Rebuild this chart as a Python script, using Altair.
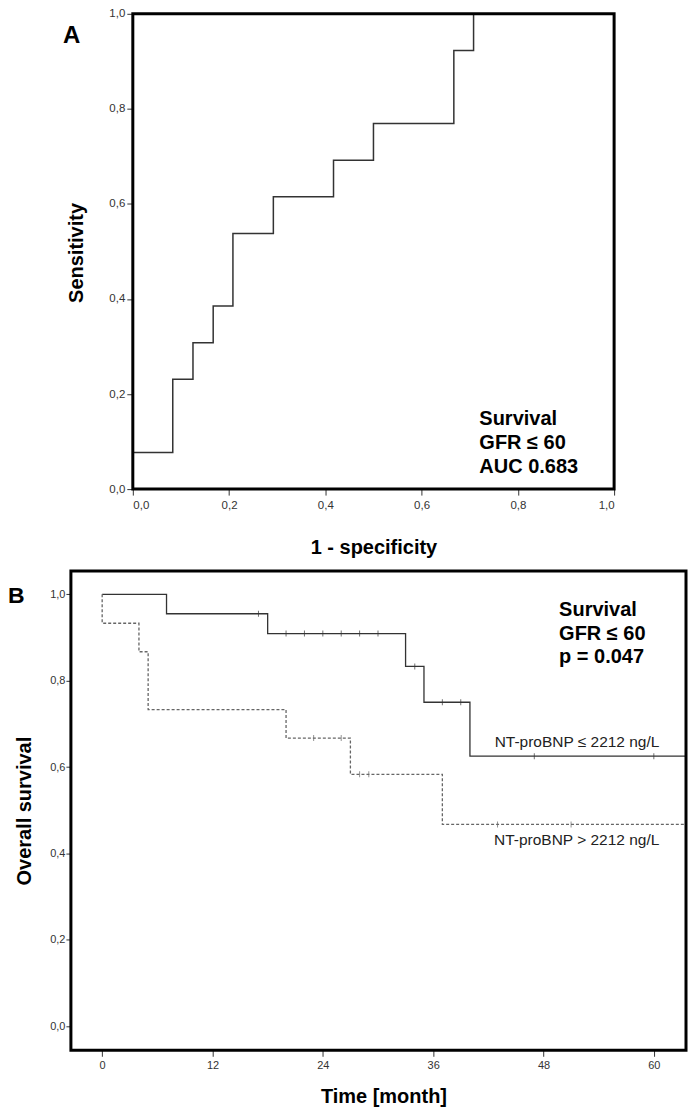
import altair as alt
import pandas as pd

FONT = "Liberation Sans"

# ---------------- Panel A: ROC curve ----------------
roc_fpr = [0.0, 0.0, 0.083, 0.125, 0.167, 0.208, 0.292, 0.417, 0.5, 0.667, 0.708, 1.0]
roc_tpr = [0.0, 0.077, 0.231, 0.308, 0.385, 0.538, 0.615, 0.692, 0.769, 0.923, 1.0, 1.0]
roc_ticks = [0.0, 0.2, 0.4, 0.6, 0.8, 1.0]
roc_domain = [0.0, 1.0]
roc_note = ["Survival", "GFR ≤ 60", "AUC 0.683"]
roc_note_x = [0.72, 0.72, 0.72]
roc_note_y = [0.135, 0.085, 0.033]

# ---------------- Panel B: Kaplan-Meier ----------------
low_time = [0, 7, 18, 33, 35, 40, 63.5]
low_surv = [1.0, 0.955, 0.909, 0.833, 0.750, 0.625, 0.625]
low_cens_time = [17, 20, 22, 24, 26, 28, 30, 34, 37, 39, 47, 60]
low_cens_surv = [0.955, 0.909, 0.909, 0.909, 0.909, 0.909, 0.909, 0.833, 0.750, 0.750, 0.625, 0.625]
high_time = [0, 0, 4, 5, 20, 27, 37, 63.5]
high_surv = [1.0, 0.933, 0.867, 0.733, 0.667, 0.583, 0.467, 0.467]
high_cens_time = [23, 26, 28, 29, 43, 51]
high_cens_surv = [0.667, 0.667, 0.583, 0.583, 0.467, 0.467]
km_ticks_x = [0, 12, 24, 36, 48, 60]
km_ticks_y = [0.0, 0.2, 0.4, 0.6, 0.8, 1.0]
km_x_domain = [-3.4, 63.5]
km_y_domain = [-0.056, 1.054]
km_note = ["Survival", "GFR ≤ 60", "p = 0.047"]
km_note_x = [49.7, 49.7, 49.7]
km_note_y = [0.95, 0.895, 0.84]
group_labels = ["NT-proBNP ≤ 2212 ng/L", "NT-proBNP > 2212 ng/L"]
group_label_x = [60.6, 60.6]
group_label_y = [0.647, 0.42]

comma = "replace(format(datum.value, '.1f'), '.', ',')"

# layout (pixels inside the single shared view)
W, H = 616, 1038
A_X0, A_X1 = 62, 544
A_Y0, A_Y1 = 476, 0
B_Y0, B_Y1 = 1038, 558

# ---------- Panel A ----------
roc_df = pd.DataFrame({"fpr": roc_fpr, "tpr": roc_tpr, "i": list(range(len(roc_fpr)))})
roc_note_df = pd.DataFrame({"fpr": roc_note_x, "tpr": roc_note_y, "t": roc_note})
roc_frame = pd.DataFrame({"fpr": [roc_domain[0]], "fpr2": [roc_domain[1]],
                          "tpr": [roc_domain[0]], "tpr2": [roc_domain[1]]})

xA = alt.X("fpr:Q", scale=alt.Scale(domain=roc_domain, range=[A_X0, A_X1], nice=False, zero=False),
           axis=alt.Axis(orient="bottom", offset=A_Y0 - H, values=roc_ticks, labelExpr=comma,
                         tickSize=6, labelPadding=4, labelFontSize=11.5,
                         title="1 - specificity", titleX=303, titleY=64,
                         titleBaseline="alphabetic", titleAlign="center"))
yA = alt.Y("tpr:Q", scale=alt.Scale(domain=roc_domain, range=[A_Y0, A_Y1], nice=False, zero=False),
           axis=alt.Axis(orient="left", offset=-A_X0, values=roc_ticks, labelExpr=comma,
                         tickSize=6, labelPadding=2, labelFontSize=11.5,
                         title="Sensitivity", titleX=-50, titleY=239,
                         titleAngle=270, titleBaseline="alphabetic", titleAlign="center"))

roc_line = alt.Chart(roc_df).mark_line(interpolate="step-after", color="#333", strokeWidth=1.5).encode(
    x=xA, y=yA, order="i:Q")
roc_text = alt.Chart(roc_note_df).mark_text(align="left", baseline="alphabetic", font=FONT,
                                             fontSize=20, fontWeight="bold", color="black").encode(
    x=xA, y=yA, text="t:N")
frameA = alt.Chart(roc_frame).mark_rect(fill="transparent", stroke="black", strokeWidth=3).encode(
    x=xA, x2="fpr2:Q", y=yA, y2="tpr2:Q")
letterA = alt.Chart(pd.DataFrame({"t": ["A"]})).mark_text(
    align="left", baseline="alphabetic", font=FONT, fontSize=24, fontWeight="bold", color="black").encode(
    text="t:N", x=alt.value(-8), y=alt.value(29))

panelA = alt.layer(roc_line, roc_text, frameA, letterA)

# ---------- Panel B ----------
low_df = pd.DataFrame({"time": low_time, "surv": low_surv, "i": list(range(len(low_time)))})
high_df = pd.DataFrame({"time": high_time, "surv": high_surv, "i": list(range(len(high_time)))})
low_c = pd.DataFrame({"time": low_cens_time, "surv": low_cens_surv})
high_c = pd.DataFrame({"time": high_cens_time, "surv": high_cens_surv})
km_note_df = pd.DataFrame({"time": km_note_x, "surv": km_note_y, "t": km_note})
grp_df = pd.DataFrame({"time": group_label_x, "surv": group_label_y, "t": group_labels})
km_frame = pd.DataFrame({"time": [km_x_domain[0]], "time2": [km_x_domain[1]],
                         "surv": [km_y_domain[0]], "surv2": [km_y_domain[1]]})

xB = alt.X("time:Q", scale=alt.Scale(domain=km_x_domain, range=[0, W], nice=False, zero=False),
           axis=alt.Axis(orient="bottom", values=km_ticks_x, format="d", tickSize=6, labelPadding=3,
                         labelFontSize=11, title="Time [month]", titleX=313, titleY=52,
                         titleBaseline="alphabetic", titleAlign="center"))
yB = alt.Y("surv:Q", scale=alt.Scale(domain=km_y_domain, range=[B_Y0, B_Y1], nice=False, zero=False),
           axis=alt.Axis(orient="left", values=km_ticks_y, labelExpr=comma, tickSize=5, labelPadding=1,
                         labelFontSize=11, title="Overall survival", titleX=-40, titleY=798,
                         titleAngle=270, titleBaseline="alphabetic", titleAlign="center"))

low_line = alt.Chart(low_df).mark_line(interpolate="step-after", color="#333", strokeWidth=1.3).encode(
    x=xB, y=yB, order="i:Q")
high_line = alt.Chart(high_df).mark_line(interpolate="step-after", color="#666", strokeWidth=1.3,
                                         strokeDash=[3, 2]).encode(
    x=xB, y=yB, order="i:Q")
low_ticks = alt.Chart(low_c).mark_tick(orient="vertical", size=6, thickness=1, color="#333").encode(x=xB, y=yB)
high_ticks = alt.Chart(high_c).mark_tick(orient="vertical", size=6, thickness=1, color="#666").encode(x=xB, y=yB)
km_text = alt.Chart(km_note_df).mark_text(align="left", baseline="alphabetic", font=FONT,
                                           fontSize=20, fontWeight="bold", color="black").encode(
    x=xB, y=yB, text="t:N")
grp_text = alt.Chart(grp_df).mark_text(align="right", baseline="alphabetic", font=FONT,
                                        fontSize=15.5, color="#222").encode(
    x=xB, y=yB, text="t:N")
frameB = alt.Chart(km_frame).mark_rect(fill="transparent", stroke="black", strokeWidth=3).encode(
    x=xB, x2="time2:Q", y=yB, y2="surv2:Q")
letterB = alt.Chart(pd.DataFrame({"t": ["B"]})).mark_text(
    align="left", baseline="alphabetic", font=FONT, fontSize=23, fontWeight="bold", color="black").encode(
    text="t:N", x=alt.value(-63), y=alt.value(590))

panelB = alt.layer(low_line, high_line, low_ticks, high_ticks, km_text, grp_text, frameB, letterB)

chart = alt.layer(panelA, panelB).resolve_scale(
    x="independent", y="independent"
).resolve_axis(
    x="independent", y="independent"
).properties(
    width=W, height=H, padding={"left": 0, "top": -1, "right": -1, "bottom": 0}
).configure_view(
    stroke=None
).configure_axis(
    domain=False, grid=False, tickColor="#333", tickWidth=1, labelColor="#333",
    labelFont=FONT, titleFont=FONT, titleFontWeight="bold", titleFontSize=20, titleColor="black"
)

chart.save("out.html", embed_options={"renderer": "svg", "actions": False})
